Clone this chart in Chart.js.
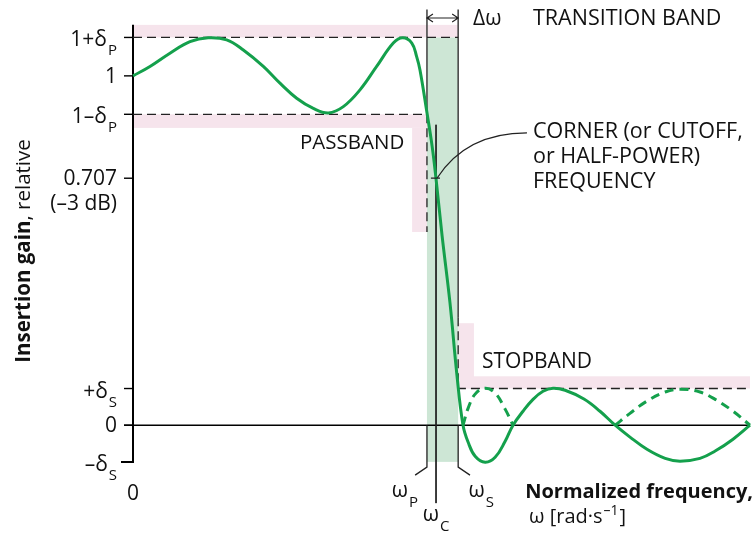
<!DOCTYPE html>
<html>
<head>
<meta charset="utf-8">
<title>Filter response</title>
<script src="https://cdn.jsdelivr.net/npm/chart.js@4.4.1/dist/chart.umd.min.js"></script>
<style>
  body { margin: 0; background: #fff; }
  canvas { display: block; }
</style>
</head>
<body>
<canvas id="filterChart" width="755" height="533"></canvas>
<script>
// frequency normalized so that the corner frequency wC = 1
const freq = [0, 0.056, 0.122, 0.188, 0.248, 0.309, 0.364, 0.430, 0.485, 0.540, 0.595, 0.645, 0.694, 0.749,
  0.804, 0.859, 0.890, 0.920, 0.936, 0.947, 0.969, 0.987, 1.000, 1.020, 1.046, 1.069, 1.089, 1.106, 1.129, 1.162,
  1.195, 1.228, 1.254, 1.287, 1.320, 1.353, 1.386, 1.426, 1.488, 1.541, 1.591, 1.640, 1.696, 1.756,
  1.805, 1.871, 1.921, 1.980, 2.036];
const gain = [1.0, 1.027, 1.065, 1.098, 1.109, 1.103, 1.074, 1.027, 0.979, 0.936, 0.907, 0.894, 0.912, 0.960,
  1.027, 1.094, 1.109, 1.094, 1.055, 1.017, 0.900, 0.799, 0.705, 0.542, 0.350, 0.143, 0, -0.049, -0.089, -0.106,
  -0.092, -0.046, 0, 0.040, 0.074, 0.097, 0.106, 0.100, 0.075, 0.040, 0, -0.034, -0.069, -0.095,
  -0.103, -0.095, -0.074, -0.040, 0];

// |gain| lobes in the stopband (dashed)
const mirrorFreqA = [1.089, 1.106, 1.129, 1.162, 1.195, 1.228, 1.254];
const mirrorGainA = [0, 0.049, 0.089, 0.106, 0.092, 0.046, 0];
const mirrorFreqB = [1.591, 1.640, 1.696, 1.756, 1.805, 1.871, 1.921, 1.980, 2.036];
const mirrorGainB = [0, 0.034, 0.069, 0.095, 0.103, 0.095, 0.074, 0.040, 0];

const deltaP = 0.11;
const deltaS = 0.105;
const halfPower = 0.707;
const wP = 0.970, wC = 1.0, wS = 1.073, wMax = 2.036;

const yTickValues = [1 + deltaP, 1, 1 - deltaP, halfPower, deltaS, 0, -deltaS];
const yTickText = ['1+δ', '1', '1–δ', '0.707', '+δ', '0', '–δ'];
const yTickSub = ['P', '', 'P', '', 'S', '', 'S'];

const FONT = '"Open Sans", sans-serif';
const pink = '#f6e4ec';
const bandGreen = '#cde6d5';
const curveGreen = '#14a04c';

function pts(xs, ys) { return xs.map((v, i) => ({ x: v, y: ys[i] })); }

function lineSet(data, color, width, dash) {
  return { data: data, showLine: true, borderColor: color, borderWidth: width,
    borderDash: dash || [], pointRadius: 0, tension: 0, fill: false, clip: false };
}

function drawSub(ctx, main, sub, x, base, align, size, drop) {
  const subSize = Math.round(size * 0.7);
  ctx.font = size + 'px ' + FONT;
  const wMain = ctx.measureText(main).width;
  ctx.font = subSize + 'px ' + FONT;
  const wSub = sub ? ctx.measureText(sub).width + 1 : 0;
  let left = x;
  if (align === 'right') left = x - wMain - wSub;
  if (align === 'center') left = x - (wMain + wSub) / 2;
  ctx.textAlign = 'left';
  ctx.textBaseline = 'alphabetic';
  ctx.font = size + 'px ' + FONT;
  ctx.fillText(main, left, base);
  if (sub) {
    ctx.font = subSize + 'px ' + FONT;
    ctx.fillText(sub, left + wMain + 1, base + (drop || 8));
  }
}

const figurePlugin = {
  id: 'figure',
  beforeDatasetsDraw(chart) {
    const { ctx, scales: { x, y } } = chart;
    const px = v => x.getPixelForValue(v), py = v => y.getPixelForValue(v);
    function rect(x0, x1, y0, y1, c) {
      ctx.fillStyle = c;
      ctx.fillRect(px(x0), py(y1), px(x1) - px(x0), py(y0) - py(y1));
    }
    ctx.save();
    // tolerance regions
    rect(0, wS, 1 + deltaP, 1.146, pink);
    rect(0, wP, 0.851, 1 - deltaP, pink);
    rect(0.921, wP, 0.553, 0.851, pink);
    rect(wS, 1.125, deltaS, 0.292, pink);
    rect(wS, wMax, deltaS, 0.140, pink);
    // transition band
    rect(wP, wS, -deltaS, 1 + deltaP, bandGreen);

    // axes
    ctx.strokeStyle = '#000';
    ctx.lineWidth = 1.4;
    ctx.beginPath();
    ctx.moveTo(px(0) - 9, py(0));
    ctx.lineTo(px(wMax), py(0));
    ctx.stroke();
    ctx.lineWidth = 2;
    ctx.beginPath();
    ctx.moveTo(px(0), py(1.146));
    ctx.lineTo(px(0), py(-deltaS));
    ctx.lineTo(px(0) - 12, py(-deltaS));
    ctx.stroke();
    ctx.lineWidth = 1.4;
    yTickValues.forEach(v => {
      ctx.beginPath();
      ctx.moveTo(px(0) - 9, py(v));
      ctx.lineTo(px(0), py(v));
      ctx.stroke();
    });
    ctx.restore();
  },
  afterDatasetsDraw(chart) {
    const { ctx, scales: { x, y } } = chart;
    const px = v => x.getPixelForValue(v), py = v => y.getPixelForValue(v);
    ctx.save();
    ctx.fillStyle = '#111';

    // y tick labels
    const xr = px(0) - 16;
    yTickValues.forEach((v, i) => {
      if (yTickSub[i]) drawSub(ctx, yTickText[i], yTickSub[i], xr, py(v) + 9, 'right', 21, 9);
      else drawSub(ctx, yTickText[i], '', xr, py(v) + 7, 'right', 21);
    });
    drawSub(ctx, '(–3 dB)', '', xr, py(halfPower) + 32, 'right', 21);
    drawSub(ctx, '0', '', px(0), 500, 'center', 21);

    // frequency marks
    drawSub(ctx, 'ω', 'P', px(wP) - 22, 497, 'center', 21, 10);
    drawSub(ctx, 'ω', 'C', px(wC), 521, 'center', 21, 10);
    drawSub(ctx, 'ω', 'S', px(wS) + 23, 497, 'center', 21, 10);

    // band labels
    drawSub(ctx, 'PASSBAND', '', 300, 149, 'left', 20.5);
    drawSub(ctx, 'STOPBAND', '', 482, 368, 'left', 21);
    drawSub(ctx, 'Δω', '', 473, 25, 'left', 21);
    drawSub(ctx, 'TRANSITION BAND', '', 533, 25, 'left', 21.5);
    drawSub(ctx, 'CORNER (or CUTOFF,', '', 533, 138, 'left', 21.5);
    drawSub(ctx, 'or HALF-POWER)', '', 533, 163, 'left', 21.5);
    drawSub(ctx, 'FREQUENCY', '', 533, 188, 'left', 21.5);

    // x axis title
    ctx.font = 'bold 20px ' + FONT;
    ctx.textAlign = 'right';
    ctx.fillText('Normalized frequency,', 753, 498);
    ctx.textAlign = 'left';
    ctx.font = '20px ' + FONT;
    const part1 = 'ω [rad·s';
    ctx.fillText(part1, 529, 523);
    let cx = 529 + ctx.measureText(part1).width;
    ctx.font = '14px ' + FONT;
    ctx.fillText('–1', cx + 1, 515);
    cx += ctx.measureText('–1').width + 2;
    ctx.font = '20px ' + FONT;
    ctx.fillText(']', cx, 523);

    // y axis title (rotated)
    ctx.save();
    ctx.translate(30, 251);
    ctx.rotate(-Math.PI / 2);
    ctx.font = 'bold 20.5px ' + FONT;
    const tBold = 'Insertion gain';
    const wb = ctx.measureText(tBold).width;
    ctx.font = '20.5px ' + FONT;
    const tRest = ', relative';
    const wr = ctx.measureText(tRest).width;
    const sx = -(wb + wr) / 2;
    ctx.font = 'bold 20.5px ' + FONT;
    ctx.fillText(tBold, sx, 0);
    ctx.font = '20.5px ' + FONT;
    ctx.fillText(tRest, sx + wb, 0);
    ctx.restore();

    // transition width arrow
    ctx.strokeStyle = '#222';
    ctx.lineWidth = 1.2;
    const ay = 18, ax0 = px(wP), ax1 = px(wS);
    ctx.beginPath();
    ctx.moveTo(ax0, ay); ctx.lineTo(ax1, ay);
    ctx.moveTo(ax0 + 6, ay - 4); ctx.lineTo(ax0, ay); ctx.lineTo(ax0 + 6, ay + 4);
    ctx.moveTo(ax1 - 6, ay - 4); ctx.lineTo(ax1, ay); ctx.lineTo(ax1 - 6, ay + 4);
    ctx.stroke();

    // corner frequency leader
    ctx.lineWidth = 1.2;
    ctx.beginPath();
    ctx.moveTo(px(1.300), py(0.837));
    ctx.bezierCurveTo(px(1.162), py(0.837), px(1.063), py(0.788), px(1.003), py(halfPower));
    ctx.moveTo(px(0.983), py(halfPower));
    ctx.lineTo(px(1.013), py(halfPower));
    ctx.stroke();
    ctx.restore();
  }
};

const smooth = { tension: 0.4 };

new Chart(document.getElementById('filterChart'), {
  type: 'scatter',
  data: {
    datasets: [
      Object.assign(lineSet(pts(freq, gain), curveGreen, 3), smooth),
      Object.assign(lineSet(pts(mirrorFreqA, mirrorGainA), curveGreen, 3, [9, 6]), smooth),
      Object.assign(lineSet(pts(mirrorFreqB, mirrorGainB), curveGreen, 3, [9, 6]), smooth),
      lineSet([{ x: 0, y: 1 + deltaP }, { x: wS, y: 1 + deltaP }], '#222', 1.3, [9, 5]),
      lineSet([{ x: 0, y: 1 - deltaP }, { x: wP, y: 1 - deltaP }, { x: wP, y: 0.553 }], '#222', 1.3, [9, 5]),
      lineSet([{ x: wS, y: 0.309 }, { x: wS, y: deltaS }, { x: wMax, y: deltaS }], '#222', 1.3, [9, 5]),
      lineSet([{ x: wP, y: 1.19 }, { x: wP, y: 1 - deltaP }], '#4a4a4a', 1.6),
      lineSet([{ x: wS, y: 1.19 }, { x: wS, y: 0.309 }], '#4a4a4a', 1.6),
      lineSet([{ x: wP, y: 0 }, { x: wP, y: -0.12 }, { x: 0.931, y: -0.143 }], '#222', 1.3),
      lineSet([{ x: wS, y: 0 }, { x: wS, y: -0.12 }, { x: 1.112, y: -0.143 }], '#222', 1.3),
      lineSet([{ x: wC, y: 0.86 }, { x: wC, y: -0.223 }], '#222', 1)
    ]
  },
  options: {
    responsive: false,
    animation: false,
    events: [],
    layout: { padding: { left: 133, right: 5, top: 6, bottom: 3 } },
    plugins: { legend: { display: false }, tooltip: { enabled: false } },
    scales: {
      x: { type: 'linear', min: 0, max: wMax, display: false },
      y: { min: -0.3, max: 1.2, display: false }
    }
  },
  plugins: [figurePlugin]
});
</script>
</body>
</html>
